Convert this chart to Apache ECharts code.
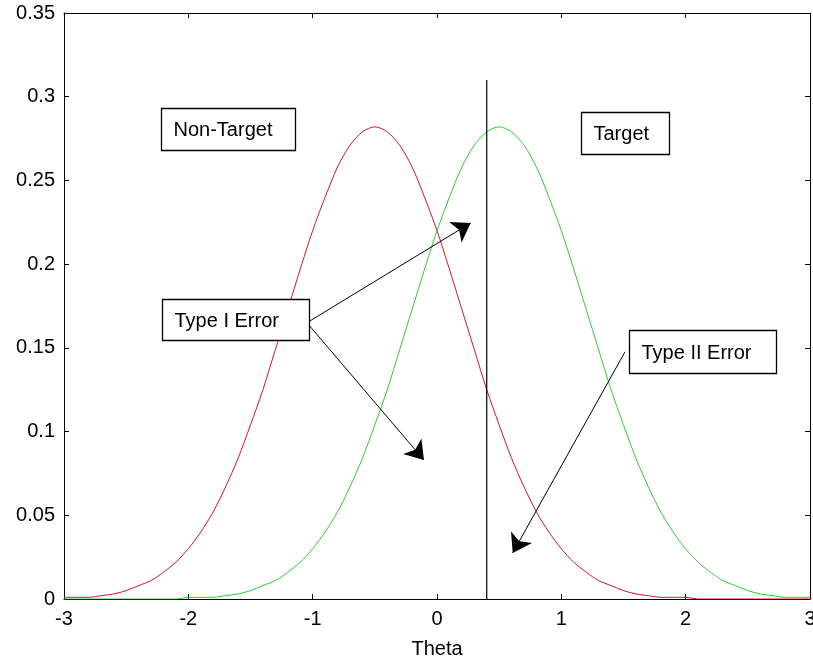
<!DOCTYPE html>
<html>
<head>
<meta charset="utf-8">
<script src="https://cdn.jsdelivr.net/npm/echarts@6/dist/echarts.min.js"></script>
<style>
  html, body { margin: 0; padding: 0; background: #fff; overflow: hidden; }
  #chart { position: absolute; left: 0; top: 0; width: 813px; height: 662px; }
</style>
</head>
<body>
<div id="chart"></div>
<script>
// Theta sample points (-3 .. 3, step 0.1)
const theta = [];
for (let i = -30; i <= 30; i++) theta.push(+(i / 10).toFixed(1));

// Non-target density (red)
const nonTarget = [
  0.001, 0.001, 0.001, 0.002, 0.003, 0.005, 0.008, 0.011, 0.016, 0.022,
  0.030, 0.040, 0.052, 0.067, 0.084, 0.104, 0.125, 0.149, 0.173, 0.197,
  0.220, 0.240, 0.258, 0.271, 0.279, 0.282, 0.279, 0.271, 0.258, 0.240,
  0.220, 0.197, 0.173, 0.149, 0.125, 0.104, 0.084, 0.067, 0.052, 0.040,
  0.030, 0.022, 0.016, 0.011, 0.008, 0.005, 0.003, 0.002, 0.001, 0.001,
  0.001, 0.000, 0.000, 0.000, 0.000, 0.000, 0.000, 0.000, 0.000, 0.000,
  0.000
];

// Target density (green)
const target = [
  0.000, 0.000, 0.000, 0.000, 0.000, 0.000, 0.000, 0.000, 0.000, 0.000,
  0.001, 0.001, 0.001, 0.002, 0.003, 0.005, 0.008, 0.011, 0.016, 0.022,
  0.030, 0.040, 0.052, 0.067, 0.084, 0.104, 0.125, 0.149, 0.173, 0.197,
  0.220, 0.240, 0.258, 0.271, 0.279, 0.282, 0.279, 0.271, 0.258, 0.240,
  0.220, 0.197, 0.173, 0.149, 0.125, 0.104, 0.084, 0.067, 0.052, 0.040,
  0.030, 0.022, 0.016, 0.011, 0.008, 0.005, 0.003, 0.002, 0.001, 0.001,
  0.001
];

// Decision threshold
const threshold = 0.4;
const thresholdTop = 0.31;

// Axis ranges
const xMin = -3, xMax = 3, xStep = 1;
const yMin = 0, yMax = 0.35, yStep = 0.05;

// Text boxes: [label, left, top, right, bottom] in data units
const boxes = [
  ['Non-Target', -2.22, 0.2933, -1.142, 0.2682],
  ['Target', 1.158, 0.291, 1.866, 0.2658],
  ['Type I Error', -2.212, 0.1792, -1.03, 0.1547],
  ['Type II Error', 1.545, 0.1607, 2.727, 0.135]
];

// Arrows: [from, to] in data units
const arrows = [
  [[-1.046, 0.165], [0.271, 0.2246]],
  [[-1.046, 0.165], [-0.105, 0.083]],
  [[1.512, 0.1476], [0.609, 0.0275]]
];

const FONT = '"Liberation Sans", Arial, Helvetica, sans-serif';
const FS = 20;

const chart = echarts.init(document.getElementById('chart'), null, {
  renderer: 'canvas', width: 813, height: 662
});

const zip = (xs, ys) => xs.map((x, i) => [x, ys[i]]);

const baseAxisX = {
  type: 'value', min: xMin, max: xMax, interval: xStep,
  splitLine: { show: false },
  axisLine: { show: true, onZero: false, lineStyle: { color: '#000', width: 1 } },
  axisTick: { show: true, inside: true, length: 5, lineStyle: { color: '#000' } }
};
const baseAxisY = {
  type: 'value', min: yMin, max: yMax, interval: yStep,
  splitLine: { show: false },
  axisLine: { show: true, onZero: false, lineStyle: { color: '#000', width: 1 } },
  axisTick: { show: true, inside: true, length: 5, lineStyle: { color: '#000' } }
};

chart.setOption({
  animation: false,
  backgroundColor: '#fff',
  grid: {
    left: 64, right: 3, top: 13, bottom: 63,
    containLabel: false, outerBoundsMode: 'none'
  },
  xAxis: [
    Object.assign({}, baseAxisX, {
      position: 'bottom',
      name: 'Theta', nameLocation: 'middle', nameGap: 40,
      nameTextStyle: { color: '#000', fontFamily: FONT, fontSize: FS },
      axisLabel: { color: '#000', fontFamily: FONT, fontSize: FS, margin: 10 }
    }),
    Object.assign({}, baseAxisX, { position: 'top', axisLabel: { show: false } })
  ],
  yAxis: [
    Object.assign({}, baseAxisY, {
      position: 'left',
      axisLabel: { color: '#000', fontFamily: FONT, fontSize: FS, margin: 9 }
    }),
    Object.assign({}, baseAxisY, { position: 'right', axisLabel: { show: false } })
  ],
  series: [
    {
      name: 'Non-Target', type: 'line', data: zip(theta, nonTarget),
      showSymbol: false, smooth: 0.3,
      lineStyle: { color: '#d8102e', width: 1 }, z: 3
    },
    {
      name: 'Target', type: 'line', data: zip(theta, target),
      showSymbol: false, smooth: 0.3,
      lineStyle: { color: '#2ecc2e', width: 1 }, z: 3
    },
    {
      name: 'Threshold', type: 'line',
      data: [[threshold, yMin], [threshold, thresholdTop]],
      showSymbol: false, lineStyle: { color: '#000', width: 1.2 }, z: 4
    },
    {
      name: 'Arrows', type: 'lines', coordinateSystem: 'cartesian2d',
      data: arrows.map(a => ({ coords: a })),
      symbol: ['none', 'arrow'], symbolSize: [13, 18],
      lineStyle: { color: '#000', width: 1, opacity: 1 },
      itemStyle: { color: '#000' },
      z: 6
    }
  ]
});

// Text boxes placed from data coordinates
const graphics = [];
boxes.forEach(([label, x0, y0, x1, y1]) => {
  const p0 = chart.convertToPixel({ gridIndex: 0 }, [x0, y0]);
  const p1 = chart.convertToPixel({ gridIndex: 0 }, [x1, y1]);
  const left = Math.round(p0[0]) + 0.5, top = Math.round(p0[1]) + 0.5;
  const w = Math.round(p1[0] - p0[0]), h = Math.round(p1[1] - p0[1]);
  graphics.push({
    type: 'rect', z: 10,
    shape: { x: left, y: top, width: w, height: h },
    style: { fill: '#fff', stroke: '#000', lineWidth: 1.3 }
  });
  graphics.push({
    type: 'text', z: 11,
    x: left + 12, y: top + h / 2 + 1,
    style: {
      text: label, fill: '#000', font: FS + 'px ' + FONT,
      textAlign: 'left', textVerticalAlign: 'middle'
    }
  });
});
chart.setOption({ graphic: graphics });
</script>
</body>
</html>
